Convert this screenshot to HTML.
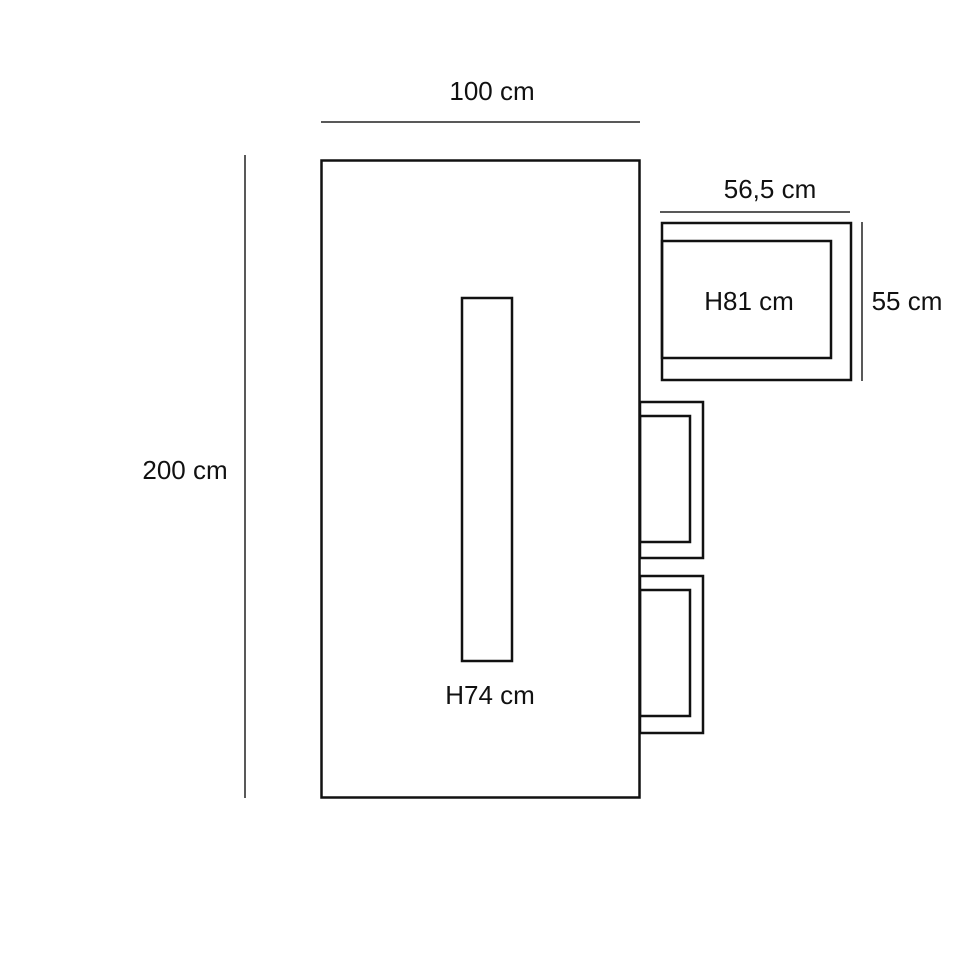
<!DOCTYPE html>
<html><head><meta charset="utf-8"><style>
html,body{margin:0;padding:0;background:#fff;}
svg{display:block;}
text{font-family:"Liberation Sans",Arial,sans-serif;font-size:26px;fill:#111;text-anchor:middle;}
</style></head><body>
<svg width="960" height="960" viewBox="0 0 960 960" xmlns="http://www.w3.org/2000/svg">
<g fill="none" stroke="#222" stroke-width="1.5">
<line x1="321" y1="122" x2="640" y2="122"/>
<line x1="245" y1="155" x2="245" y2="798"/>
<line x1="660" y1="212" x2="850" y2="212"/>
<line x1="862" y1="222" x2="862" y2="381"/>
</g>
<g fill="none" stroke="#111" stroke-width="2.5">
<rect x="321.5" y="160.5" width="318" height="637"/>
<rect x="462" y="298" width="50" height="363"/>
<rect x="662" y="223" width="189" height="157"/>
<rect x="662" y="241" width="169" height="117"/>
<rect x="640" y="402" width="63" height="156"/>
<rect x="640" y="416" width="50" height="126"/>
<rect x="640" y="576" width="63" height="157"/>
<rect x="640" y="590" width="50" height="126"/>
</g>
<text x="492" y="100">100 cm</text>
<text x="185" y="479">200 cm</text>
<text x="770" y="198">56,5 cm</text>
<text x="907" y="310">55 cm</text>
<text x="749" y="310">H81 cm</text>
<text x="490" y="704">H74 cm</text>
</svg>
</body></html>
